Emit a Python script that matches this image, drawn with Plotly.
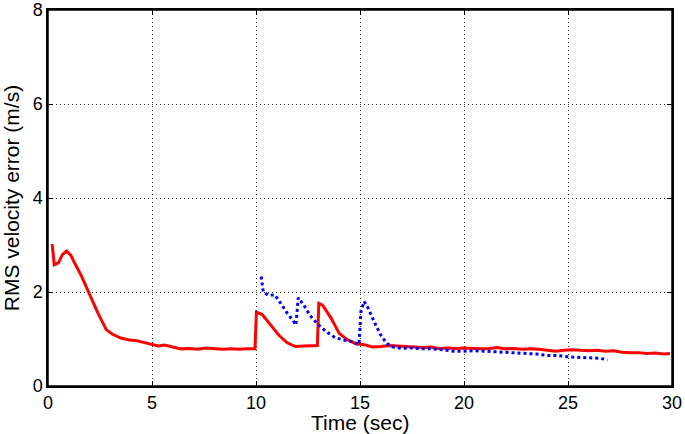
"""RMS velocity error over time, two estimators (Plotly)."""

import plotly.graph_objects as go

red_t = [0.2, 0.3, 0.5, 0.7, 0.9, 1.1, 1.3, 1.6, 2.0, 2.4, 2.8, 3.1, 3.5, 3.9, 4.2,
         4.6, 5.0, 5.3, 5.6, 6.0, 6.4, 6.8, 7.2, 7.6, 8.0, 8.4, 8.8, 9.2, 9.6, 9.95,
         10.02, 10.3, 10.7, 11.1, 11.5, 11.9, 12.3, 12.7, 12.95, 13.02, 13.2, 13.6,
         14.0, 14.4, 14.8, 15.2, 15.6, 16.0, 16.4, 16.8, 17.2, 17.6, 18.0, 18.4,
         18.8, 19.2, 19.6, 20.0, 20.4, 20.8, 21.2, 21.6, 22.0, 22.4, 22.8, 23.2,
         23.6, 24.0, 24.4, 24.8, 25.2, 25.6, 26.0, 26.4, 26.8, 27.2, 27.6, 28.0,
         28.4, 28.8, 29.2, 29.6, 29.9]
red_err = [3.02, 2.58, 2.62, 2.8, 2.87, 2.78, 2.6, 2.35, 1.95, 1.55, 1.2, 1.1, 1.02,
           0.98, 0.97, 0.93, 0.88, 0.85, 0.87, 0.83, 0.79, 0.8, 0.78, 0.81, 0.79,
           0.78, 0.79, 0.78, 0.79, 0.79, 1.57, 1.52, 1.3, 1.08, 0.92, 0.84, 0.85,
           0.86, 0.86, 1.76, 1.72, 1.45, 1.12, 0.98, 0.9, 0.88, 0.83, 0.84, 0.86,
           0.85, 0.84, 0.83, 0.82, 0.83, 0.8, 0.81, 0.8, 0.81, 0.8, 0.79, 0.8, 0.82,
           0.79, 0.8, 0.78, 0.79, 0.78, 0.76, 0.74, 0.76, 0.77, 0.76, 0.75, 0.76,
           0.74, 0.75, 0.72, 0.71, 0.71, 0.69, 0.7, 0.68, 0.69]

blue_t = [10.25, 10.35, 10.6, 10.9, 11.2, 11.5, 11.8, 11.92, 12.03, 12.3, 12.6, 13.0,
          13.4, 13.8, 14.2, 14.6, 14.95, 15.05, 15.2, 15.4, 15.7, 16.0, 16.3, 16.6,
          17.0, 17.5, 18.0, 18.5, 19.0, 19.5, 20.0, 20.5, 21.0, 21.5, 22.0, 22.5,
          23.0, 23.5, 24.0, 24.5, 25.0, 25.5, 26.0, 26.5, 26.9]
blue_err = [2.33, 2.0, 1.93, 1.94, 1.75, 1.55, 1.38, 1.3, 1.88, 1.72, 1.5, 1.3, 1.15,
            1.03, 0.98, 0.95, 0.88, 1.6, 1.8, 1.65, 1.35, 1.08, 0.9, 0.83, 0.8, 0.81,
            0.79, 0.79, 0.77, 0.74, 0.74, 0.75, 0.74, 0.73, 0.71, 0.7, 0.69, 0.68,
            0.65, 0.65, 0.62, 0.61, 0.6, 0.59, 0.56]

x_ticks = [0, 5, 10, 15, 20, 25, 30]
y_ticks = [0, 2, 4, 6, 8]

FONT = "Liberation Sans, Arial, Helvetica, sans-serif"

fig = go.Figure()
fig.add_trace(go.Scatter(
    x=red_t, y=red_err, mode="lines",
    line=dict(color="#ff0000", width=3),
))
fig.add_trace(go.Scatter(
    x=blue_t, y=blue_err, mode="lines",
    line=dict(color="#0000ff", width=3, dash="dot"),
))

axis_style = dict(
    showline=True, linecolor="black", linewidth=1.5, mirror="ticks",
    showgrid=True, gridcolor="#333333", gridwidth=1, griddash="1px,3px",
    zeroline=False, ticks="inside", ticklen=5, tickcolor="black",
    tickfont=dict(size=18, color="black", family=FONT),
    automargin=False, ticklabeloverflow="allow",
)

fig.update_layout(
    template="none",
    width=685, height=434,
    margin=dict(l=48, r=13, t=10, b=48),
    paper_bgcolor="white", plot_bgcolor="white",
    showlegend=False,
    font=dict(family=FONT, color="black"),
    xaxis=dict(range=[0, 30], tickvals=x_ticks, **axis_style),
    yaxis=dict(range=[0, 8], tickvals=y_ticks,
               title=dict(text="RMS velocity error (m/s)", font=dict(size=21), standoff=9),
               **axis_style),
)

# box round the plot area (top and right edges)
fig.add_shape(
    type="rect", xref="paper", yref="paper", x0=0, y0=0, x1=1, y1=1,
    line=dict(color="black", width=1.5), layer="above",
)

# x title placed as an annotation so it sits tight under the tick labels
fig.add_annotation(
    text="Time (sec)", x=0.5, y=0, xref="paper", yref="paper",
    xanchor="center", yanchor="top", yshift=-23, showarrow=False,
    font=dict(size=21, color="black", family=FONT),
)

fig.write_html("out.html", config={"displayModeBar": False},
               post_script="document.body.style.margin='0';")
